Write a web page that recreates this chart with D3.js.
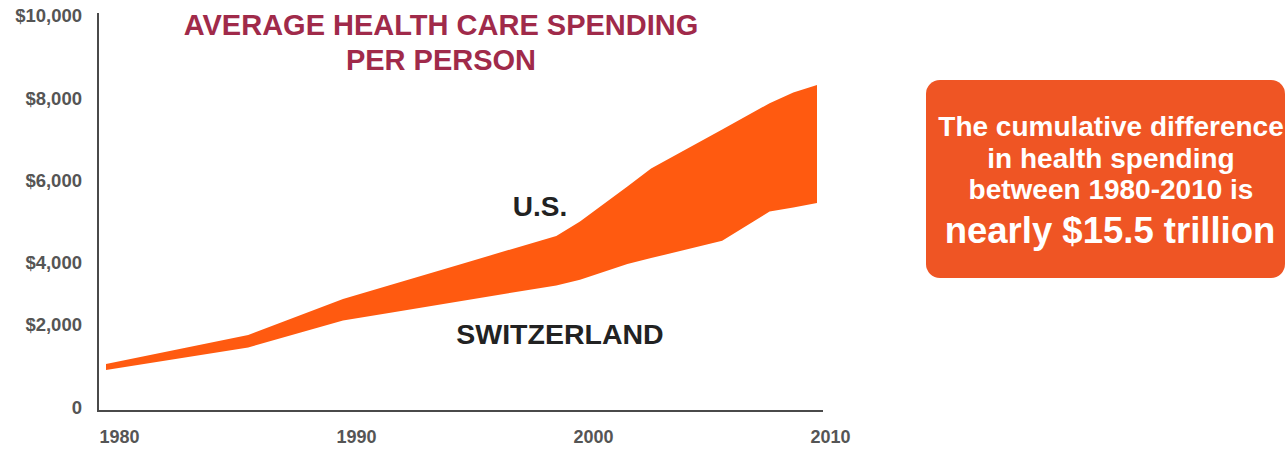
<!DOCTYPE html>
<html>
<head>
<meta charset="utf-8">
<script src="https://cdn.jsdelivr.net/npm/d3@7"></script>
<style>
  html, body { margin: 0; padding: 0; background: #ffffff; }
  svg { display: block; font-family: "Liberation Sans", Arial, Helvetica, sans-serif; }
</style>
</head>
<body>
<svg id="chart" width="1285" height="451"></svg>
<script>
// Average health care spending per person (US$), read at the bend points of each series
const years       = [1980, 1986, 1990, 1992, 1995, 1999, 2000, 2002, 2003, 2006, 2008, 2009, 2010];
const usSpending  = [1060, 1759, 2839, 3290, 3971, 4659, 5015, 5868, 6305, 7259, 7898, 8157, 8337];
const swissSpending = [916, 1458, 2145, 2397, 2774, 3277, 3461, 3968, 4120, 4541, 5254, 5356, 5463];

const yTickValues = [0, 2000, 4000, 6000, 8000, 10000];
const xTickValues = [1980, 1990, 2000, 2010];

const titleLines = ["AVERAGE HEALTH CARE SPENDING", "PER PERSON"];
const calloutLines = ["The cumulative difference", "in health spending", "between 1980-2010 is"];
const calloutHeadline = "nearly $15.5 trillion";

const svg = d3.select("#chart");

// Scales: the vertical axis of this graphic has uneven gridline spacing,
// so it is drawn as a piecewise-linear scale through each labelled value.
const x = d3.scaleLinear().domain([1980, 2010]).range([106, 817]);
const y = d3.scaleLinear()
  .domain(yTickValues)
  .range([408, 325, 263, 181, 99, 16]);

const rows = years.map((yr, i) => ({ year: yr, us: usSpending[i], ch: swissSpending[i] }));

// Gap between the two series
const band = d3.area()
  .x(d => x(d.year))
  .y0(d => y(d.ch))
  .y1(d => y(d.us));

svg.append("path")
  .datum(rows)
  .attr("d", band)
  .attr("fill", "#ff5a10");

// Axis lines
const axisLeftX = 98, axisBottomY = 411;
svg.append("line")
  .attr("x1", axisLeftX).attr("x2", axisLeftX)
  .attr("y1", y(10000) - 3).attr("y2", axisBottomY + 1)
  .attr("stroke", "#4a4a4a").attr("stroke-width", 2);
svg.append("line")
  .attr("x1", axisLeftX - 1).attr("x2", 823)
  .attr("y1", axisBottomY).attr("y2", axisBottomY)
  .attr("stroke", "#4a4a4a").attr("stroke-width", 2);

// Y axis labels
const yAxis = svg.append("g")
  .attr("transform", `translate(${axisLeftX},0)`)
  .call(d3.axisLeft(y)
    .tickValues(yTickValues)
    .tickSize(0)
    .tickPadding(16)
    .tickFormat(d => d === 0 ? "0" : "$" + d3.format(",")(d)));
yAxis.select(".domain").remove();
yAxis.selectAll("text")
  .attr("font-family", "'Liberation Sans', Arial, sans-serif")
  .attr("font-size", 18.5)
  .attr("font-weight", "bold")
  .attr("fill", "#555");

// X axis labels
const xAxis = svg.append("g")
  .attr("transform", `translate(0,${axisBottomY})`)
  .call(d3.axisBottom(x)
    .tickValues(xTickValues)
    .tickSize(0)
    .tickPadding(19)
    .tickFormat(d3.format("d")));
xAxis.select(".domain").remove();
xAxis.selectAll("text")
  .attr("dx", 13)
  .attr("font-family", "'Liberation Sans', Arial, sans-serif")
  .attr("font-size", 18)
  .attr("font-weight", "bold")
  .attr("fill", "#555");

// Title
svg.append("g")
  .selectAll("text")
  .data(titleLines)
  .join("text")
  .attr("x", 441)
  .attr("y", (d, i) => 35 + i * 35)
  .attr("text-anchor", "middle")
  .attr("font-size", 29)
  .attr("font-weight", "bold")
  .attr("fill", "#a02a4a")
  .text(d => d);

// Series labels
svg.append("text")
  .attr("x", 540).attr("y", 216)
  .attr("text-anchor", "middle")
  .attr("font-size", 28)
  .attr("font-weight", "bold")
  .attr("fill", "#222")
  .text("U.S.");
svg.append("text")
  .attr("x", 560).attr("y", 344)
  .attr("text-anchor", "middle")
  .attr("font-size", 28.5)
  .attr("font-weight", "bold")
  .attr("fill", "#222")
  .text("SWITZERLAND");

// Callout box
const callout = svg.append("g");
callout.append("rect")
  .attr("x", 926).attr("y", 80)
  .attr("width", 359).attr("height", 198)
  .attr("rx", 14).attr("ry", 14)
  .attr("fill", "#ef5524");
callout.selectAll("text.line")
  .data(calloutLines)
  .join("text")
  .attr("class", "line")
  .attr("x", 1111)
  .attr("y", (d, i) => 136 + i * 31.5)
  .attr("text-anchor", "middle")
  .attr("font-size", 28)
  .attr("font-weight", "bold")
  .attr("fill", "#ffffff")
  .text(d => d);
callout.append("text")
  .attr("x", 1110).attr("y", 243)
  .attr("text-anchor", "middle")
  .attr("font-size", 36.5)
  .attr("font-weight", "bold")
  .attr("fill", "#ffffff")
  .text(calloutHeadline);
</script>
</body>
</html>
